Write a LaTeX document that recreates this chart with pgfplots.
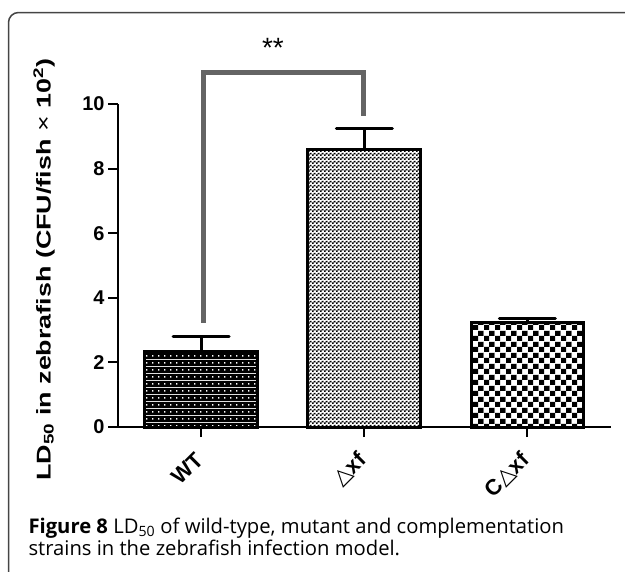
\documentclass[border=0pt]{standalone}
\usepackage{fontspec}
\setmainfont{Liberation Sans}
\newfontfamily\capfont{Open Sans}
\newfontfamily\symfont{DejaVu Sans}
\usepackage{graphicx}
\usepackage{pgfplots}
\pgfplotsset{compat=1.18}
\usetikzlibrary{patterns}
\definecolor{bracketgray}{HTML}{646464}
\definecolor{framegray}{HTML}{454545}

\pgfdeclarepatterninherentlycolored{wtdots}{\pgfpointorigin}{\pgfqpoint{6bp}{6.5bp}}{\pgfqpoint{6bp}{6.5bp}}{%
  \pgfsetfillcolor{black}\pgfpathrectangle{\pgfpointorigin}{\pgfqpoint{6bp}{6.5bp}}\pgfusepath{fill}%
  \pgfsetfillcolor{white}\pgfpathrectangle{\pgfqpoint{2.4bp}{2.6bp}}{\pgfqpoint{1.4bp}{1.4bp}}\pgfusepath{fill}}
\pgfdeclarepatterninherentlycolored{finecheck}{\pgfpointorigin}{\pgfqpoint{4bp}{4bp}}{\pgfqpoint{4bp}{4bp}}{%
  \pgfsetfillcolor{white}\pgfpathrectangle{\pgfpointorigin}{\pgfqpoint{4bp}{4bp}}\pgfusepath{fill}%
  \pgfsetfillcolor{black}\pgfpathrectangle{\pgfpointorigin}{\pgfqpoint{2bp}{2bp}}\pgfpathrectangle{\pgfqpoint{2bp}{2bp}}{\pgfqpoint{2bp}{2bp}}\pgfusepath{fill}}
\pgfdeclarepatterninherentlycolored{bigcheck}{\pgfpointorigin}{\pgfqpoint{11bp}{11bp}}{\pgfqpoint{11bp}{11bp}}{%
  \pgfsetfillcolor{white}\pgfpathrectangle{\pgfpointorigin}{\pgfqpoint{11bp}{11bp}}\pgfusepath{fill}%
  \pgfsetfillcolor{black}\pgfpathrectangle{\pgfpointorigin}{\pgfqpoint{5.5bp}{5.5bp}}\pgfpathrectangle{\pgfqpoint{5.5bp}{5.5bp}}{\pgfqpoint{5.5bp}{5.5bp}}\pgfusepath{fill}}

\pgfplotsset{mybar/.style={ybar, bar width=0.69, draw=black, line width=3bp, pattern=#1,
  error bars/.cd, y dir=plus, y explicit,
  error bar style={line width=3bp, black},
  error mark options={line width=3bp, mark size=28bp, black, rotate=90, line cap=round}}}

\begin{document}
\begin{tikzpicture}
\useasboundingbox (0,0) rectangle (625bp,-572bp);
\begin{scope}
\clip (0,0) rectangle (625bp,-572bp);
\draw[line width=1.5bp, color=framegray, rounded corners=10bp] (8.5bp,-12.5bp) rectangle (660bp,-600bp);
\end{scope}
\begin{axis}[
  at={(118bp,-427bp)}, anchor=south west,
  scale only axis, width=493bp, height=323bp,
  xmin=-0.509, xmax=2.512, ymin=0, ymax=10,
  clip=false,
  axis x line*=bottom, axis y line*=left,
  axis line style={-, line width=2bp, black},
  ytick={0,2,4,6,8,10},
  xtick={0,1,2},
  xticklabels={WT,{{\symfont △}xf},{C{\symfont △}xf}},
  tick align=outside,
  major tick length=10bp,
  tick style={line width=2bp, black},
  /pgf/number format/assume math mode=true,
  yticklabel style={font=\bfseries\fontsize{20}{20}\selectfont},
  xticklabel style={font=\bfseries\fontsize{22}{22}\selectfont, rotate=45, anchor=east, inner sep=2bp},
  xticklabel shift=18bp,
  ylabel={\scalebox{1.35}[1]{LD\textsubscript{50} in zebrafish (CFU/fish {\mdseries ×} 10\textsuperscript{2})}},
  ylabel style={font=\bfseries\fontsize{20}{20}\selectfont, at={(axis description cs:-0.150,0.487)}, anchor=center},
]
\addplot[mybar=wtdots] coordinates {(0,2.35) +- (0,0.44)};
\addplot[mybar=finecheck] coordinates {(1,8.60) +- (0,0.63)};
\addplot[mybar=bigcheck] coordinates {(2,3.22) +- (0,0.15)};
\addplot[draw=bracketgray, line width=5bp, mark=none] coordinates {(0.012,3.22) (0.012,10.99) (0.994,10.99) (0.994,9.63)};
\node[font=\fontsize{28}{28}\selectfont, anchor=center] at (axis cs:0.44,11.75) {**};
\end{axis}
\node[anchor=base west, font=\capfont\fontsize{20.3}{24}\selectfont] at (25bp,-533bp) {{\bfseries Figure 8} LD\textsubscript{50} of wild-type, mutant and complementation};
\node[anchor=base west, font=\capfont\fontsize{20.3}{24}\selectfont] at (25bp,-555bp) {strains in the zebrafish infection model.};
\end{tikzpicture}
\end{document}
